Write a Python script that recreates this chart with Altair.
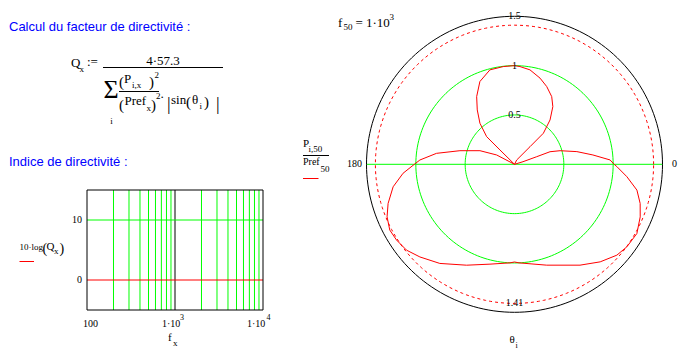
import altair as alt
import pandas as pd
import numpy as np

# ---------------- data ----------------
# Left plot: directivity index 10*log(Qx) against frequency f_x
freq_hz = [100, 200, 500, 1000, 2000, 5000, 10000]
index_db = [0, 0, 0, 0, 0, 0, 0]
grid_freq_green = [200, 300, 400, 500, 600, 700, 800, 900,
                   2000, 3000, 4000, 5000, 6000, 7000, 8000, 9000]
grid_freq_black = [1000]
grid_db = [10]
y_tick_values = [0, 10]
y_tick_labels = ["0", "10"]

# Right plot: polar pattern P(i,50)/Pref(50) against theta_i (degrees), in drawing order
theta_deg = [0, 2.6, 6.8, 11.5, 16.6, 19.5, 18.9, 17.0, 30, 63, 48.6, 47.1, 51.3, 56.4,
             61.2, 67.5, 73.5, 80.7, 86.8, 90, 96.5, 104.6, 112.7, 119.2, 124.4, 130.1,
             135.2, 135.4, 150, 152.4, 158.5, 166, 172, 177.4, 180, 184.6, 190.5, 197.2,
             202.4, 207.8, 212.7, 218.5, 224.4, 233, 244.6, 256.2, 267.4, 270, 272.6,
             287.7, 303, 311.3, 318.4, 323.7, 330.5, 337.3, 342.7, 348.1, 353.7, 358.7, 360]
p_ratio = [1.01, 0.97, 0.80, 0.645, 0.482, 0.382, 0.238, 0.09, 0.0, 0.049, 0.238, 0.43,
           0.576, 0.702, 0.783, 0.853, 0.911, 0.97, 0.992, 1.0, 0.997, 0.989, 0.909, 0.786,
           0.668, 0.544, 0.398, 0.207, 0.0, 0.204, 0.376, 0.57, 0.798, 0.96, 1.015, 1.133,
           1.251, 1.341, 1.397, 1.429, 1.421, 1.398, 1.342, 1.258, 1.132, 1.042, 1.0, 0.99,
           1.0, 1.073, 1.219, 1.316, 1.387, 1.413, 1.425, 1.381, 1.334, 1.268, 1.146, 1.038,
           1.01]
grid_radii = [0.5, 1.0]
outer_radius = 1.5
ref_radius = 1.41
polar_center_labels = ["1.5", "1", "0.5", "1.41"]
polar_center_values = [1.5, 1.0, 0.5, -1.41]

SERIF = "Liberation Serif"
SANS = "Liberation Sans"
GREEN = "#00ff00"
RED = "#ff0000"

# ---------------- scales ----------------
LX = alt.Scale(type="log", domain=[100, 10000], range=[87, 263], nice=False)
LY = alt.Scale(domain=[-5, 15], range=[310, 190], nice=False, zero=False)
PX = alt.Scale(domain=[-1.5, 1.5], range=[366.5, 662.5], nice=False, zero=False)
PY = alt.Scale(domain=[-1.5, 1.5], range=[312.3, 16.3], nice=False, zero=False)

layers = []

# ---------------- left plot ----------------
vg = pd.DataFrame({"f": grid_freq_green, "lo": -5, "hi": 15})
layers.append(alt.Chart(vg).mark_rule(color=GREEN, strokeWidth=1).encode(
    x=alt.X("f:Q", scale=LX, axis=None),
    y=alt.Y("lo:Q", scale=LY, axis=None), y2="hi:Q"))
vb = pd.DataFrame({"f": grid_freq_black, "lo": -5, "hi": 15})
layers.append(alt.Chart(vb).mark_rule(color="black", strokeWidth=1).encode(
    x=alt.X("f:Q", scale=LX, axis=None),
    y=alt.Y("lo:Q", scale=LY, axis=None), y2="hi:Q"))
hg = pd.DataFrame({"v": grid_db, "a": 100, "b": 10000})
layers.append(alt.Chart(hg).mark_rule(color=GREEN, strokeWidth=1).encode(
    x=alt.X("a:Q", scale=LX, axis=None), x2="b:Q",
    y=alt.Y("v:Q", scale=LY, axis=None)))
ld = pd.DataFrame({"f": freq_hz, "q": index_db})
layers.append(alt.Chart(ld).mark_line(color=RED, strokeWidth=1).encode(
    x=alt.X("f:Q", scale=LX, axis=None),
    y=alt.Y("q:Q", scale=LY, axis=None)))
frame = pd.DataFrame({"f0": [100], "f1": [10000], "v0": [-5], "v1": [15]})
layers.append(alt.Chart(frame).mark_rect(fill=None, stroke="black", strokeWidth=1).encode(
    x=alt.X("f0:Q", scale=LX, axis=None), x2="f1:Q",
    y=alt.Y("v0:Q", scale=LY, axis=None), y2="v1:Q"))
yt = pd.DataFrame({"v": y_tick_values, "t": y_tick_labels, "f": 100})
layers.append(alt.Chart(yt).mark_text(font=SERIF, fontSize=10, align="right",
                                      baseline="middle", dx=-5, color="black").encode(
    x=alt.X("f:Q", scale=LX, axis=None),
    y=alt.Y("v:Q", scale=LY, axis=None), text="t:N"))

# ---------------- polar plot ----------------
ang = np.arange(0, 362, 2)
rings = pd.concat([pd.DataFrame({"a": ang, "r": r, "ring": str(r)}) for r in grid_radii])
layers.append(alt.Chart(rings).transform_calculate(
    px="datum.r*cos(datum.a*PI/180)", py="datum.r*sin(datum.a*PI/180)"
).mark_line(color=GREEN, strokeWidth=1).encode(
    x=alt.X("px:Q", scale=PX, axis=None), y=alt.Y("py:Q", scale=PY, axis=None),
    detail="ring:N", order="a:Q"))
hax = pd.DataFrame({"x0": [-outer_radius], "x1": [outer_radius], "y0": [0]})
layers.append(alt.Chart(hax).mark_rule(color=GREEN, strokeWidth=1).encode(
    x=alt.X("x0:Q", scale=PX, axis=None), x2="x1:Q",
    y=alt.Y("y0:Q", scale=PY, axis=None)))
refc = pd.DataFrame({"a": ang, "r": ref_radius})
layers.append(alt.Chart(refc).transform_calculate(
    px="datum.r*cos(datum.a*PI/180)", py="datum.r*sin(datum.a*PI/180)"
).mark_line(color=RED, strokeWidth=1, strokeDash=[3, 3]).encode(
    x=alt.X("px:Q", scale=PX, axis=None), y=alt.Y("py:Q", scale=PY, axis=None),
    order="a:Q"))
curve = pd.DataFrame({"a": theta_deg, "r": p_ratio, "i": range(len(theta_deg))})
layers.append(alt.Chart(curve).transform_calculate(
    px="datum.r*cos(datum.a*PI/180)", py="datum.r*sin(datum.a*PI/180)"
).mark_line(color=RED, strokeWidth=1).encode(
    x=alt.X("px:Q", scale=PX, axis=None), y=alt.Y("py:Q", scale=PY, axis=None),
    order="i:Q"))
outc = pd.DataFrame({"a": ang, "r": outer_radius})
layers.append(alt.Chart(outc).transform_calculate(
    px="datum.r*cos(datum.a*PI/180)", py="datum.r*sin(datum.a*PI/180)"
).mark_line(color="black", strokeWidth=1).encode(
    x=alt.X("px:Q", scale=PX, axis=None), y=alt.Y("py:Q", scale=PY, axis=None),
    order="a:Q"))
pl = pd.DataFrame({"t": polar_center_labels, "v": polar_center_values, "x0": 0})
layers.append(alt.Chart(pl).mark_text(font=SERIF, fontSize=10, align="center",
                                      baseline="middle", color="black").encode(
    x=alt.X("x0:Q", scale=PX, axis=None), y=alt.Y("v:Q", scale=PY, axis=None), text="t:N"))
pr = pd.DataFrame({"t": ["0"], "x0": [outer_radius], "y0": [0]})
layers.append(alt.Chart(pr).mark_text(font=SERIF, fontSize=10, align="center",
                                      baseline="middle", dx=12, color="black").encode(
    x=alt.X("x0:Q", scale=PX, axis=None), y=alt.Y("y0:Q", scale=PY, axis=None), text="t:N"))
plf = pd.DataFrame({"t": ["180"], "x0": [-outer_radius], "y0": [0]})
layers.append(alt.Chart(plf).mark_text(font=SERIF, fontSize=10, align="center",
                                       baseline="middle", dx=-12, color="black").encode(
    x=alt.X("x0:Q", scale=PX, axis=None), y=alt.Y("y0:Q", scale=PY, axis=None), text="t:N"))

# ---------------- annotations (pixel placed text) ----------------
def text_layer(rows, font, align="left", color="black"):
    df = pd.DataFrame(rows, columns=["t", "x", "y", "s"])
    return alt.Chart(df).mark_text(font=font, align=align, baseline="alphabetic",
                                   color=color).encode(
        x=alt.X("x:Q", scale=None, axis=None), y=alt.Y("y:Q", scale=None, axis=None),
        text="t:N", size=alt.Size("s:Q", scale=None, legend=None))

blue_rows = [("Calcul du facteur de directivité :", 9, 30.5, 13),
             ("Indice de directivité :", 9, 166, 13)]
serif_left_rows = [
    ("Q", 71, 67, 13), ("x", 79.5, 72, 9), (":=", 87, 66, 13),
    ("(", 119, 87, 15), ("P", 124, 83, 13), ("i,x", 132, 87.5, 9), (")", 149, 87, 15),
    ("2", 154.5, 78, 9),
    ("(", 119, 110, 15), ("Pref", 124.5, 105, 13), ("x", 146.5, 111, 9), (")", 151, 110, 15),
    ("2", 156, 99, 9),
    ("·", 160, 101, 13), ("|", 167, 110, 18), ("sin", 171, 104, 13), ("(", 186, 107, 15),
    ("θ", 192, 104, 13), ("i", 199.5, 109, 9), (")", 204, 107, 15), ("|", 216, 110, 18),
    ("10·log", 19.5, 250, 9), ("(", 42.5, 253, 14), ("Q", 46.5, 250, 11), ("x", 54, 254, 9),
    (")", 59.5, 253, 14),
    ("100", 83, 327, 10), ("1·10", 162, 327, 10), ("3", 180, 320, 8),
    ("1·10", 247, 327, 10), ("4", 266.5, 320, 8),
    ("f", 168, 341, 11), ("x", 173, 346, 9),
    ("f", 338, 26.5, 13), ("50", 343.5, 30, 9), ("=", 355.5, 26.5, 13), ("1·10", 366, 26.5, 13),
    ("3", 389.5, 20, 9),
    ("P", 303, 147, 11), ("i,50", 308.5, 152, 9), ("Pref", 303, 165, 10), ("50", 320.5, 171.5, 9),
    ("θ", 509.5, 343, 11), ("i", 515.5, 348, 8),
]
serif_center_rows = [("4·57.3", 163, 64.5, 13), ("Σ", 111, 98, 26), ("i", 111.5, 124, 9)]

layers.append(text_layer(blue_rows, SANS, color="#0000ff"))
layers.append(text_layer(serif_left_rows, SERIF))
layers.append(text_layer(serif_center_rows, SERIF, align="center"))

# fraction bars and legend swatches
def hrule(x0, x1, y, color):
    return alt.Chart(pd.DataFrame({"k": [0]})).mark_rule(color=color, strokeWidth=1).encode(
        x=alt.value(x0), x2=alt.value(x1), y=alt.value(y))

layers.append(hrule(103, 223, 67.5, "black"))
layers.append(hrule(119, 159, 91.5, "black"))
layers.append(hrule(303, 329, 155.5, "black"))
layers.append(hrule(19.5, 34, 261.5, RED))
layers.append(hrule(303, 318.5, 178.5, RED))

chart = alt.layer(*layers).resolve_scale(
    x="independent", y="independent", size="independent"
).properties(
    width=684, height=355, autosize=alt.AutoSizeParams(type="none"), padding=0,
    background="white"
).configure_view(strokeWidth=0)

chart.save("out.html", embed_options={"renderer": "svg", "actions": False})
